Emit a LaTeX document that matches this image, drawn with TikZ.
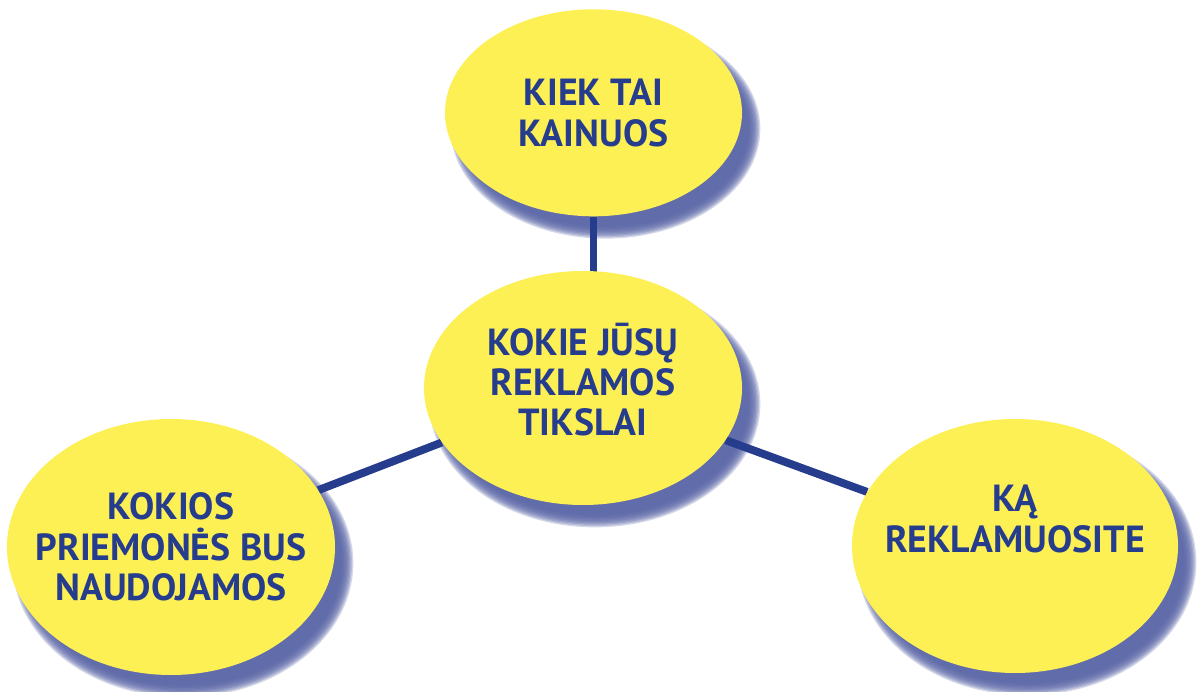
\documentclass[tikz,border=0pt]{standalone}
\usepackage{fontspec}
\setmainfont{PT Sans}
\usepackage{tikz}
\usetikzlibrary{positioning,calc,shapes.geometric}
\definecolor{bubblefill}{RGB}{252,240,85}
\definecolor{inkblue}{RGB}{38,60,140}
\definecolor{shadowblue}{RGB}{88,100,165}
\pgfdeclarelayer{shadow}
\pgfdeclarelayer{links}
\pgfsetlayers{shadow,links,main}

\begin{document}
\begin{tikzpicture}[every node/.style={font=\fontsize{21.5}{23}\selectfont\bfseries, text=inkblue}, node distance=1.08cm]
  \tikzstyle{bubble}=[ellipse, fill=bubblefill, inner sep=-0.8cm, align=center]
  \tikzstyle{link}=[draw=inkblue, line width=4.5pt]
  \useasboundingbox (0,0) rectangle (23.96,13.82);
  \node[bubble, minimum width=6.36cm, minimum height=4.68cm, text depth=0.35cm] (tikslai) at (11.66,6.06) {KOKIE JŪSŲ\\REKLAMOS\\TIKSLAI};
  \node[bubble, minimum width=5.94cm, minimum height=4.14cm, above=1.08cm of tikslai, xshift=0.21cm] (kaina) {KIEK TAI\\KAINUOS};
  \node[bubble, minimum width=6.56cm, minimum height=5.12cm] (priemones) at (3.42,2.88) {KOKIOS\\PRIEMONĖS BUS\\NAUDOJAMOS};
  \node[bubble, minimum width=6.52cm, minimum height=5.08cm, text depth=1.1cm] (ka) at (20.3,2.9) {KĄ\\REKLAMUOSITE};
  \begin{pgfonlayer}{links}
    \draw[link] (kaina) -- (kaina |- tikslai);
    \draw[link] (tikslai) -- (priemones);
    \draw[link] (tikslai) -- (ka);
  \end{pgfonlayer}
  % soft shadow, a few stacked ellipses
  \begin{pgfonlayer}{shadow}
    \foreach \b in {kaina,tikslai,priemones,ka}
      \foreach \k in {0,...,9}
        \fill[shadowblue, opacity=0.25] let \p0=(\b.center), \p1=(\b.east), \p2=(\b.north) in
          (\x0+0.24cm,\y0-0.32cm) ellipse [x radius={\x1-\x0+0.12cm-\k*0.026cm}, y radius={\y2-\y0+0.12cm-\k*0.026cm}];
  \end{pgfonlayer}
\end{tikzpicture}
\end{document}
